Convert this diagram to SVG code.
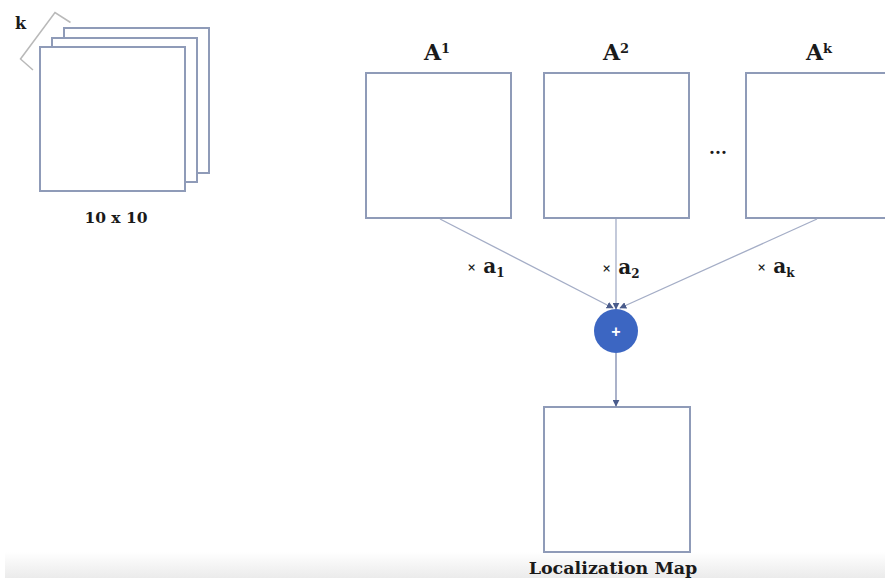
<svg xmlns="http://www.w3.org/2000/svg" width="885" height="578" viewBox="0 0 885 578">
<defs>
<linearGradient id="band" x1="0" y1="0" x2="0" y2="1">
<stop offset="0" stop-color="#ffffff"/>
<stop offset="1" stop-color="#ebebeb"/>
</linearGradient>
<marker id="arr" viewBox="0 0 10 10" refX="9" refY="5" markerWidth="7" markerHeight="7" orient="auto" markerUnits="userSpaceOnUse">
<path d="M0,0 L10,5 L0,10 z" fill="#4a5c8c"/>
</marker>
<style>
.box{fill:#ffffff;stroke:#8f9bb8;stroke-width:2}
.lbl{font-family:"DejaVu Serif","Liberation Serif",serif;font-weight:bold;fill:#1a1a1a}
.conn{stroke:#a4adc6;stroke-width:1.3;fill:none}
</style>
</defs>
<rect x="0" y="0" width="885" height="578" fill="#ffffff"/>
<rect x="5" y="552" width="880" height="26" fill="url(#band)"/>

<g id="stack">
<path d="M70.5,22.5 L55,12.5 L20.5,59 L33,70" fill="none" stroke="#b9b9b9" stroke-width="1.5"/>
<text class="lbl" x="15" y="29" font-size="16">k</text>
<rect class="box" x="64" y="28" width="145" height="145"/>
<rect class="box" x="52" y="38" width="145" height="144"/>
<rect class="box" x="40" y="47" width="145" height="144"/>
<text class="lbl" x="116" y="223" font-size="15.5" text-anchor="middle">10 x 10</text>
</g>

<g id="A1">
<rect class="box" x="366" y="73" width="145" height="145"/>
<text class="lbl" x="437" y="60" font-size="22" text-anchor="middle">A<tspan font-size="13" dy="-7">1</tspan></text>
</g>
<g id="A2">
<rect class="box" x="544" y="73" width="145" height="145"/>
<text class="lbl" x="616" y="60" font-size="22" text-anchor="middle">A<tspan font-size="13" dy="-7">2</tspan></text>
</g>
<g id="dots">
<text class="lbl" x="718" y="154" font-size="17" text-anchor="middle">...</text>
</g>
<g id="Ak">
<rect class="box" x="746" y="73" width="145" height="145"/>
<text class="lbl" x="819" y="60" font-size="22" text-anchor="middle">A<tspan font-size="13" dy="-7">k</tspan></text>
</g>

<g id="sum">
<circle cx="616" cy="331" r="22" fill="#3c66c2"/>
<text x="616" y="337" font-family="Liberation Sans, Arial, sans-serif" font-weight="bold" font-size="16" fill="#ffffff" text-anchor="middle">+</text>
</g>

<g id="map">
<rect class="box" x="544" y="407" width="146" height="145"/>
<text class="lbl" x="613" y="574" font-size="17.5" text-anchor="middle">Localization Map</text>
</g>

<g id="connectors">
<line class="conn" x1="440" y1="219" x2="613" y2="308" marker-end="url(#arr)"/>
<line class="conn" x1="616" y1="219" x2="616" y2="309" marker-end="url(#arr)"/>
<line class="conn" x1="817" y1="219" x2="620" y2="308" marker-end="url(#arr)"/>
<line x1="616" y1="353" x2="616" y2="406" stroke="#7d89ad" stroke-width="1.3" marker-end="url(#arr)"/>
</g>

<g id="labels">
<text class="lbl" x="467" y="273" font-size="20"><tspan font-size="11" dy="-2">×</tspan><tspan dy="2"> a</tspan><tspan font-size="12" dy="4">1</tspan></text>
<text class="lbl" x="602" y="274" font-size="20"><tspan font-size="11" dy="-2">×</tspan><tspan dy="2"> a</tspan><tspan font-size="12" dy="4">2</tspan></text>
<text class="lbl" x="757" y="273" font-size="20"><tspan font-size="11" dy="-2">×</tspan><tspan dy="2"> a</tspan><tspan font-size="12" dy="4">k</tspan></text>
</g>
</svg>
